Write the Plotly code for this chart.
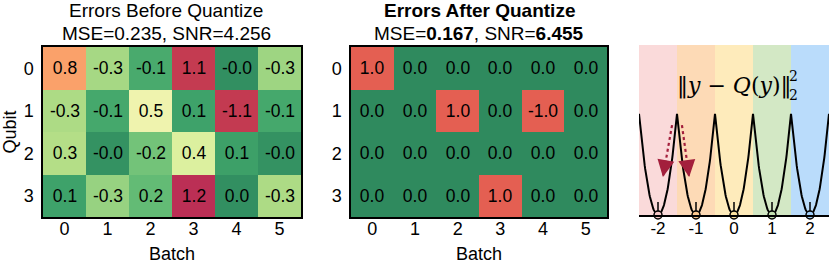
import numpy as np
import plotly.graph_objects as go

batches = [0, 1, 2, 3, 4, 5]
qubits = [0, 1, 2, 3]

errors_before = [
    [0.82, -0.28, -0.12, 1.12, -0.02, -0.27],
    [-0.29, -0.11, 0.52, 0.09, -1.13, -0.11],
    [0.30, -0.03, -0.21, 0.42, 0.08, -0.03],
    [0.09, -0.26, 0.18, 1.20, 0.02, -0.29],
]
errors_after = [
    [1.0, 0.0, 0.0, 0.0, 0.0, 0.0],
    [0.0, 0.0, 1.0, 0.0, -1.0, 0.0],
    [0.0, 0.0, 0.0, 0.0, 0.0, 0.0],
    [0.0, 0.0, 0.0, 1.0, 0.0, 0.0],
]
title_before = ["Errors Before Quantize", "MSE=0.235, SNR=4.256"]
title_after = ["<b>Errors After Quantize</b>", "MSE=<b>0.167</b>, SNR=<b>6.455</b>"]

levels = [-2, -1, 0, 1, 2]
level_labels = ["-2", "-1", "0", "1", "2"]
band_colors = ["#fadada", "#fddab6", "#feebbb", "#d3e8c5", "#badcfb"]
marker_fill = ["#f6c8c8", "#fbc88f", "#fde3a0", "#c2e0b0", "#9fcdf8"]
arrow_start = [(-1.63, 0.222), (-1.37, 0.222)]
arrow_end = [(-1.87, 0.094), (-1.18, 0.094)]

colorscale = [
    [0.0, "#2f8a5e"], [0.083, "#40a56b"], [0.167, "#6cc077"], [0.25, "#b4de87"],
    [0.333, "#d8ee9a"], [0.417, "#ebf6b1"], [0.5, "#fde7a0"], [0.583, "#fdc682"],
    [0.667, "#fca86d"], [0.833, "#e45f52"], [0.917, "#c63e50"], [1.0, "#bb2f55"],
]

FONT = "Liberation Sans, Arial, sans-serif"
ARROW_COLOR = "#a31f3c"
W, H = 831, 264

fig = go.Figure()

for vals, xa, ya in [(errors_before, "x", "y"), (errors_after, "x2", "y2")]:
    arr = np.array(vals)
    fig.add_trace(go.Heatmap(
        x=batches, y=qubits, z=np.abs(arr), zmin=0, zmax=1.2,
        text=[[f"{v:.1f}" for v in row] for row in vals],
        texttemplate="%{text}", textfont=dict(size=17.5, color="black", family=FONT),
        colorscale=colorscale, showscale=False, xaxis=xa, yaxis=ya, hoverinfo="skip",
    ))

# Panel 3: quantization illustration
ymax = 0.42
fig.add_trace(go.Bar(
    x=levels, y=[ymax] * len(levels), width=1.0, marker=dict(color=band_colors, line=dict(width=0)),
    xaxis="x3", yaxis="y3", hoverinfo="skip", showlegend=False,
))
for k in levels:
    xs = np.linspace(k - 0.5, k + 0.5, 81)
    fig.add_trace(go.Scatter(x=xs, y=(xs - k) ** 2, mode="lines", line=dict(color="black", width=2),
                             xaxis="x3", yaxis="y3", hoverinfo="skip", showlegend=False))
    fig.add_trace(go.Scatter(x=[k, k], y=[0, 0.032], mode="lines", line=dict(color="black", width=1.5),
                             xaxis="x3", yaxis="y3", hoverinfo="skip", showlegend=False))
fig.add_trace(go.Scatter(
    x=levels, y=[0] * len(levels), mode="markers",
    marker=dict(size=8, color=marker_fill, line=dict(color="black", width=1.5)),
    cliponaxis=False, xaxis="x3", yaxis="y3", hoverinfo="skip", showlegend=False,
))
for (x0, y0), (x1, y1) in zip(arrow_start, arrow_end):
    fig.add_trace(go.Scatter(
        x=[x0, x1], y=[y0, y1], mode="lines", line=dict(color=ARROW_COLOR, width=2.2, dash="dot"),
        xaxis="x3", yaxis="y3", hoverinfo="skip", showlegend=False,
    ))
    fig.add_annotation(
        x=x1, y=y1, ax=x1 - 0.3 * (x1 - x0), ay=y1 - 0.3 * (y1 - y0),
        xref="x3", yref="y3", axref="x3", ayref="y3", text="", showarrow=True,
        arrowhead=2, arrowsize=1.7, arrowwidth=2, arrowcolor=ARROW_COLOR, standoff=0, startstandoff=0,
    )

def px_x(p):
    return p / W

def px_y(p):
    return (H - p) / H

axis_common = dict(showgrid=False, zeroline=False, showline=True, mirror=True, linecolor="black",
                   linewidth=1.5, ticks="", automargin=False,
                   tickfont=dict(size=18, family=FONT, color="black"))

fig.update_layout(
    width=W, height=H, margin=dict(l=0, r=0, t=0, b=0, autoexpand=False),
    paper_bgcolor="white", plot_bgcolor="white", showlegend=False, bargap=0,
    font=dict(family=FONT, color="black"),
    xaxis=dict(domain=[px_x(43), px_x(301)], range=[-0.5, 5.5], tickvals=batches,
               ticklabelstandoff=-5, title=dict(text="Batch", font=dict(size=18), standoff=14), **axis_common),
    yaxis=dict(domain=[px_y(217), px_y(47)], range=[3.5, -0.5], tickvals=qubits,
               ticklabelstandoff=4, title=dict(text="Qubit", font=dict(size=18), standoff=4), **axis_common),
    xaxis2=dict(domain=[px_x(351), px_x(607)], range=[-0.5, 5.5], tickvals=batches, anchor="y2",
                ticklabelstandoff=-5, title=dict(text="Batch", font=dict(size=18), standoff=14), **axis_common),
    yaxis2=dict(domain=[px_y(217), px_y(47)], range=[3.5, -0.5], tickvals=qubits, anchor="x2",
                ticklabelstandoff=4, **axis_common),
    xaxis3=dict(domain=[px_x(639), px_x(829)], range=[-2.5, 2.5], tickvals=levels, ticktext=level_labels,
                anchor="y3", showgrid=False, zeroline=False, showline=True, linecolor="black", linewidth=1.5,
                ticks="", automargin=False, ticklabelstandoff=-3,
                tickfont=dict(size=17, family=FONT, color="black")),
    yaxis3=dict(domain=[px_y(215), px_y(45)], range=[0, ymax], anchor="x3", visible=False,
                automargin=False),
)

for lines, cx in [(title_before, 166), (title_after, 479)]:
    fig.add_annotation(text=lines[0], x=px_x(cx), y=px_y(11), xref="paper", yref="paper",
                       xanchor="center", yanchor="middle",
                       showarrow=False, font=dict(size=19, family=FONT, color="black"))
    fig.add_annotation(text=lines[1], x=px_x(cx), y=px_y(33), xref="paper", yref="paper",
                       xanchor="center", yanchor="middle",
                       showarrow=False, font=dict(size=19, family=FONT, color="black"))

fig.add_annotation(text="‖<i>y</i> − <i>Q</i>(<i>y</i>)‖", x=px_x(734), y=px_y(86), xref="paper",
                   yref="paper", xanchor="center", yanchor="middle",
                   showarrow=False, font=dict(size=22, family="DejaVu Serif, serif", color="black"))
fig.add_annotation(text="2", x=px_x(793), y=px_y(76), xref="paper", yref="paper",
                   xanchor="center", yanchor="middle",
                   showarrow=False, font=dict(size=14, family="DejaVu Serif, serif", color="black"))
fig.add_annotation(text="2", x=px_x(793), y=px_y(95), xref="paper", yref="paper",
                   xanchor="center", yanchor="middle",
                   showarrow=False, font=dict(size=14, family="DejaVu Serif, serif", color="black"))

fig.write_html("out.html", config={"displayModeBar": False},
               post_script="document.body.style.margin='0';")
